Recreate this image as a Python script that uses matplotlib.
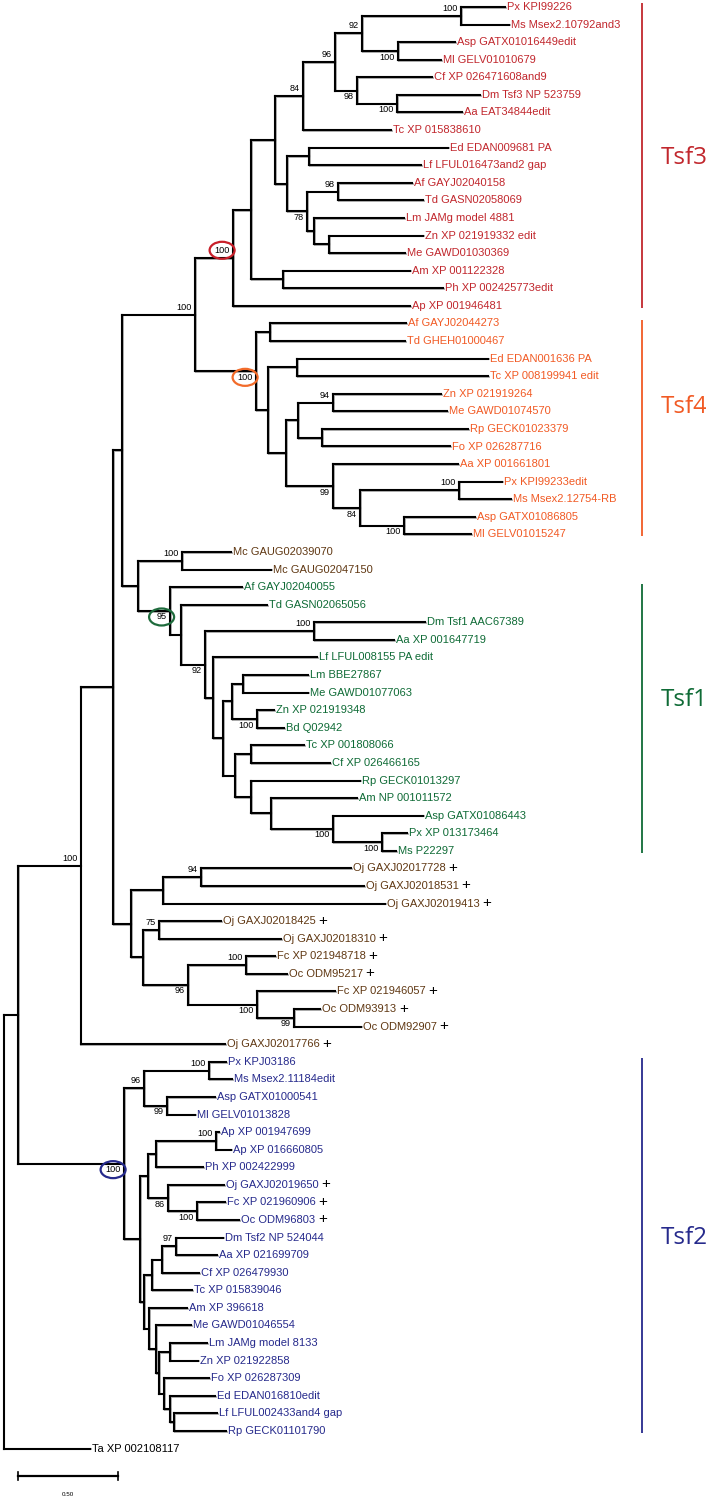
import matplotlib
matplotlib.use("Agg")
import matplotlib.pyplot as plt
from matplotlib.collections import LineCollection
from matplotlib.patches import Ellipse
from matplotlib.transforms import offset_copy

# ── leaves (top to bottom) ─────────────────────────────────────────────────
leaf_names = [
    "Px KPI99226", "Ms Msex2.10792and3", "Asp GATX01016449edit", "Ml GELV01010679",
    "Cf XP 026471608and9", "Dm Tsf3 NP 523759", "Aa EAT34844edit", "Tc XP 015838610",
    "Ed EDAN009681 PA", "Lf LFUL016473and2 gap", "Af GAYJ02040158", "Td GASN02058069",
    "Lm JAMg model 4881", "Zn XP 021919332 edit", "Me GAWD01030369", "Am XP 001122328",
    "Ph XP 002425773edit", "Ap XP 001946481",
    "Af GAYJ02044273", "Td GHEH01000467", "Ed EDAN001636 PA", "Tc XP 008199941 edit",
    "Zn XP 021919264", "Me GAWD01074570", "Rp GECK01023379", "Fo XP 026287716",
    "Aa XP 001661801", "Px KPI99233edit", "Ms Msex2.12754-RB", "Asp GATX01086805",
    "Ml GELV01015247",
    "Mc GAUG02039070", "Mc GAUG02047150",
    "Af GAYJ02040055", "Td GASN02065056", "Dm Tsf1 AAC67389", "Aa XP 001647719",
    "Lf LFUL008155 PA edit", "Lm BBE27867", "Me GAWD01077063", "Zn XP 021919348",
    "Bd Q02942", "Tc XP 001808066", "Cf XP 026466165", "Rp GECK01013297",
    "Am NP 001011572", "Asp GATX01086443", "Px XP 013173464", "Ms P22297",
    "Oj GAXJ02017728", "Oj GAXJ02018531", "Oj GAXJ02019413", "Oj GAXJ02018425",
    "Oj GAXJ02018310", "Fc XP 021948718", "Oc ODM95217", "Fc XP 021946057",
    "Oc ODM93913", "Oc ODM92907", "Oj GAXJ02017766",
    "Px KPJ03186", "Ms Msex2.11184edit", "Asp GATX01000541", "Ml GELV01013828",
    "Ap XP 001947699", "Ap XP 016660805", "Ph XP 002422999", "Oj GAXJ02019650",
    "Fc XP 021960906", "Oc ODM96803", "Dm Tsf2 NP 524044", "Aa XP 021699709",
    "Cf XP 026479930", "Tc XP 015839046", "Am XP 396618", "Me GAWD01046554",
    "Lm JAMg model 8133", "Zn XP 021922858", "Fo XP 026287309", "Ed EDAN016810edit",
    "Lf LFUL002433and4 gap", "Rp GECK01101790",
    "Ta XP 002108117",
]

# distance from root to each leaf tip
leaf_depth = [
    2.507, 2.527, 2.257, 2.187, 2.142, 2.382, 2.292, 1.937, 2.222, 2.087,
    2.042, 2.097, 2.002, 2.097, 2.007, 2.032, 2.197, 2.032,
    2.012, 2.007, 2.422, 2.422, 2.187, 2.217, 2.322, 2.232, 2.272, 2.492,
    2.537, 2.357, 2.337,
    1.137, 1.337,
    1.192, 1.317, 2.107, 1.952, 1.567, 1.522, 1.522, 1.352, 1.402, 1.502,
    1.632, 1.782, 1.767, 2.097, 2.017, 1.962,
    1.737, 1.802, 1.907, 1.087, 1.387, 1.357, 1.417, 1.657, 1.582, 1.787,
    1.107,
    1.112, 1.142, 1.057, 0.957, 1.077, 1.137, 0.997, 1.102, 1.107, 1.177,
    1.097, 1.067, 0.977, 0.942, 0.917, 0.937, 1.017, 0.972, 1.027, 1.057,
    1.067, 1.112,
    0.432,
]

# leaves marked with "+"
plus_leaves = [49, 50, 51, 52, 53, 54, 55, 56, 57, 58, 59, 67, 68, 69]

# ── internal nodes (children listed before parents) ─────────────────────────
node_ids = [
    "A", "B", "C", "D", "E", "F", "G", "H", "I", "J", "K", "L", "M", "N", "P",
    "O", "Q", "R", "S", "T", "U", "V", "W", "X", "Y", "Z", "AA", "AB", "AC",
    "AD", "AE", "AF", "AG", "AH", "AI", "AJ", "AK", "AL", "AM", "AN", "AO",
    "AP", "AQ", "AR", "AS", "AT", "AU", "AV", "AW", "AX", "AY", "AZ", "BA",
    "BB", "BC", "BD", "BE", "BF", "BG", "BH", "BI", "BJ", "BK", "BL", "BM",
    "BN", "BO", "BP", "BQ", "BR", "BS", "BT", "BU", "BV", "BW", "BX", "BY",
    "BZ", "CA", "CB", "CC", "ROOT",
]
node_kids = [
    (0, 1), (2, 3), ("A", "B"), (5, 6), (4, "D"), ("C", "E"), ("F", 7),
    (8, 9), (10, 11), (13, 14), (12, "J"), ("I", "K"), ("H", "L"), ("G", "M"),
    (15, 16), ("N", "P"), ("O", 17),
    (18, 19), (20, 21), (22, 23), (24, 25), ("T", "U"), (27, 28), (29, 30),
    ("W", "X"), (26, "Y"), ("V", "Z"), ("S", "AA"), ("R", "AB"),
    ("Q", "AC"), (31, 32),
    (35, 36), (38, 39), (40, 41), ("AG", "AH"), (42, 43), (47, 48), (46, "AK"),
    (45, "AL"), (44, "AM"), ("AJ", "AN"), ("AI", "AO"), (37, "AP"),
    ("AF", "AQ"), (34, "AR"), (33, "AS"), ("AE", "AT"), ("AD", "AU"),
    (49, 50), ("AW", 51), (52, 53), (54, 55), (57, 58), (56, "BA"),
    ("AZ", "BB"), ("AY", "BC"), ("AX", "BD"), ("AV", "BE"), ("BF", 59),
    (60, 61), (62, 63), ("BH", "BI"), (64, 65), ("BK", 66), (68, 69),
    (67, "BM"), ("BL", "BN"), (70, 71), ("BP", 72), ("BQ", 73), (76, 77),
    (80, 81), (79, "BT"), (78, "BU"), ("BS", "BV"), (75, "BW"), (74, "BX"),
    ("BR", "BY"), ("BO", "BZ"), ("BJ", "CA"), ("BG", "CB"), ("CC", 82),
]
node_depth = [
    2.287, 1.972, 1.792, 1.967, 1.767, 1.657, 1.497, 1.527, 1.672, 1.627,
    1.552, 1.517, 1.417, 1.357, 1.397, 1.237, 1.147,
    1.332, 1.467, 1.647, 1.592, 1.472, 2.277, 2.002, 1.782, 1.647, 1.412,
    1.322, 1.262, 0.957, 0.892,
    1.552, 1.197, 1.267, 1.142, 1.237, 1.892, 1.647, 1.337, 1.237, 1.157,
    1.097, 1.047, 1.007, 0.887, 0.832, 0.672, 0.592,
    0.987, 0.797, 0.777, 1.212, 1.452, 1.267, 0.922, 0.697, 0.637, 0.547,
    0.385,
    1.027, 0.817, 0.702, 1.062, 0.762, 0.967, 0.822, 0.722, 0.862, 0.792,
    0.742, 0.832, 0.852, 0.832, 0.802, 0.777, 0.762, 0.727, 0.702, 0.682,
    0.602, 0.072, 0.0,
]
node_boot = [
    100, 100, 92, 100, 98, 96, 84, None, 98, None, None, 78, None, None,
    None, None, 100,
    None, None, 94, None, None, 100, 100, 84, 99, None, None, 100, 100, 100,
    100, None, 100, None, None, 100, 100, None, None, None, None, None, 92,
    None, 95, None, None,
    94, None, 75, 100, 99, 100, 96, None, None, None, 100,
    100, 99, 96, 100, None, 100, 86, None, 97, None, None, None, None, None,
    None, None, None, None, None, None, 100, None, None,
]

# highlighted nodes (circled bootstrap values)
circled_nodes = ["Q", "AC", "AT", "CB"]
circled_colors = ["#c8202a", "#f26b2a", "#1e6b3c", "#262a8c"]

# clade bars
clade_names = ["Tsf3", "Tsf4", "Tsf1", "Tsf2"]
clade_first = [0, 18, 33, 60]
clade_last = [17, 30, 48, 81]
clade_colors = ["#c1272d", "#f15a24", "#0f6b36", "#262a8c"]
clade_label_y = [8.6, 22.75, 39.4, 70.0]
other_color = "#603813"

# ── layout (pixel mapping of the original export) ───────────────────────────
W, H = 706, 1500
X0, PX_PER_UNIT = 3.6, 200.0
Y0, PX_PER_LEAF = 7.0, 17.58

def px_x(p):
    return (p - X0) / PX_PER_UNIT

def px_y(p):
    return (p - Y0) / PX_PER_LEAF

fig = plt.figure(figsize=(W / 100, H / 100), dpi=100, facecolor="white")
ax = fig.add_axes([0, 0, 1, 1])
ax.set_xlim(px_x(0), px_x(W))
ax.set_ylim(px_y(H), px_y(0))
ax.axis("off")

# positions
pos = {}
for i, d in enumerate(leaf_depth):
    pos[i] = (d, float(i))
for nid, kids, d in zip(node_ids, node_kids, node_depth):
    ys = [pos[k][1] for k in kids]
    pos[nid] = (d, (ys[0] + ys[-1]) / 2)

segs = []
for nid, kids in zip(node_ids, node_kids):
    x, _ = pos[nid]
    ys = [pos[k][1] for k in kids]
    segs.append([(x, ys[0]), (x, ys[-1])])
    for k in kids:
        segs.append([(x, pos[k][1]), pos[k]])

shadow = offset_copy(ax.transData, fig=fig, x=0.8, y=-0.8, units="dots")
ax.add_collection(LineCollection(segs, colors="#b0b0b0", linewidths=1.4,
                                 capstyle="projecting", transform=shadow, zorder=1))
ax.add_collection(LineCollection(segs, colors="black", linewidths=1.5,
                                 capstyle="projecting", zorder=2))

# leaf colours
leaf_colors = [other_color] * len(leaf_names)
for c, a, b in zip(clade_colors, clade_first, clade_last):
    for i in range(a, b + 1):
        leaf_colors[i] = c
leaf_colors[-1] = "black"

for i, name in enumerate(leaf_names):
    x, y = pos[i]
    t = ax.annotate(name, (x, y), xytext=(1.2, 0), textcoords="offset points",
                    ha="left", va="center", fontsize=8, color=leaf_colors[i],
                    family=["Liberation Sans", "DejaVu Sans"])
    if i in plus_leaves:
        ax.annotate("+", xy=(1, 0.5), xycoords=t, xytext=(2.2, 0.4),
                    textcoords="offset points", ha="left", va="center",
                    fontsize=11, color="black",
                    family=["Liberation Sans", "DejaVu Sans"])

# parent lookup for above/below placement of support values
parent_of = {}
for nid, kids in zip(node_ids, node_kids):
    for k in kids:
        parent_of[k] = (nid, kids)

circ = dict(zip(circled_nodes, circled_colors))
for nid, boot in zip(node_ids, node_boot):
    if boot is None:
        continue
    x, y = pos[nid]
    _, sibs = parent_of[nid]
    upper = sibs[0] == nid
    dy = 5.4 if upper else -4.4
    lab = str(boot)
    ax.annotate(lab, (x, y), xytext=(-2.4, dy), textcoords="offset points",
                ha="right", va="center", fontsize=6.6, color="black",
                family=["Liberation Sans", "DejaVu Sans"], zorder=4)
    if nid in circ:
        wpx = 5.0 * len(lab)
        cx = x - px_x(X0 + 3.4 + wpx / 2)
        cy = y - px_y(Y0 + dy * 100 / 72)
        ax.add_patch(Ellipse((cx, cy), 25 / PX_PER_UNIT, 17 / PX_PER_LEAF,
                             fill=False, ec=circ[nid], lw=1.6, zorder=5))

# clade bars and names
bar_x = px_x(642)
for name, a, b, c, ly in zip(clade_names, clade_first, clade_last, clade_colors, clade_label_y):
    ax.plot([bar_x, bar_x], [a - 0.2, b + 0.1], color=c, lw=1.3, solid_capstyle="butt")
    ax.text(px_x(661), ly, name, color=c, fontsize=17.5, ha="left", va="center",
            family=["Open Sans", "DejaVu Sans"])

# scale bar
sb_y = px_y(1476)
ax.plot([px_x(18), px_x(118)], [sb_y, sb_y], color="black", lw=1.6)
for xe in (px_x(18), px_x(118)):
    ax.plot([xe, xe], [px_y(1472), px_y(1480)], color="black", lw=1.2)
ax.text(px_x(68), px_y(1495), "0.50", fontsize=4.5, ha="center", va="center",
        family=["Liberation Sans", "DejaVu Sans"])

fig.savefig("out.png", dpi=100, facecolor="white")
